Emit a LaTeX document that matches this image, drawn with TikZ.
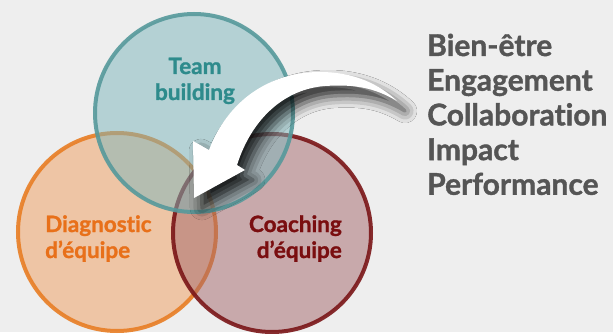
\documentclass[tikz,border=0pt]{standalone}
\usepackage{fontspec}
\setmainfont{Lato}[Ligatures=NoCommon,BoldFeatures={FakeBold=1.2}]
\usetikzlibrary{shadows.blur}
\definecolor{bggrey}{HTML}{EEEEEE}
\definecolor{tealfill}{RGB}{124,182,188}
\definecolor{tealline}{HTML}{56999B}
\definecolor{tealtext}{HTML}{2E8B8C}
\definecolor{orangefill}{RGB}{238,158,94}
\definecolor{orangeline}{HTML}{E87D24}
\definecolor{orangetext}{HTML}{E8701A}
\definecolor{redfill}{RGB}{164,102,106}
\definecolor{redline}{HTML}{7A1517}
\definecolor{redtext}{HTML}{7A0E10}
\definecolor{listgrey}{HTML}{555555}
\tikzset{
  ring/.style={circle,minimum size=198pt,inner sep=0pt,line width=4pt,
    fill opacity=0.5,draw opacity=0.9},
  ringtext/.style={font=\fontsize{22.5}{26}\selectfont\bfseries,inner sep=0pt},
  listtext/.style={font=\fontsize{30}{34}\selectfont\bfseries,text=listgrey,
    inner sep=0pt,anchor=base west}
}
\begin{document}
\begin{tikzpicture}[x=1pt,y=-1pt]
\fill[bggrey] (0,0) rectangle (613,332);
% the three circles
\node[ring,draw=orangeline,fill=orangefill] (diag) at (117,232) {};
\node[ring,draw=redline,fill=redfill] (coach) at (272,233) {};
\node[ring,draw=tealline,fill=tealfill] (team) at (194,113) {};
% circle labels
\node[ringtext,text=tealtext,align=center,anchor=base] (teamtxt) at (195,100) {Team\\building};
\node[ringtext,text=orangetext,align=left,anchor=base west] (diagtxt) at (45,258) {Diagnostic\\d’équipe};
\node[ringtext,text=redtext,align=right,anchor=base east] (coachtxt) at (342,258) {Coaching\\d’équipe};
% curved arrow
\fill[white,blur shadow={shadow xshift=8pt,shadow yshift=-10pt,shadow blur radius=12pt,shadow opacity=85}]
  (209,150) .. controls (228,100) and (270,72) .. (320,72)
  .. controls (355,72) and (380,85) .. (397,101)
  .. controls (375,88) and (355,84) .. (325,86)
  .. controls (285,89) and (252,118) .. (237,165)
  -- (245,170) -- (194,198) -- (193,141) -- cycle;
% list of gains
\foreach \word [count=\i] in {Bien-être,Engagement,Collaboration,Impact,Performance}
  \node[listtext] (gain\i) at (427,{56+34.7*(\i-1)}) {\word};
\end{tikzpicture}
\end{document}
